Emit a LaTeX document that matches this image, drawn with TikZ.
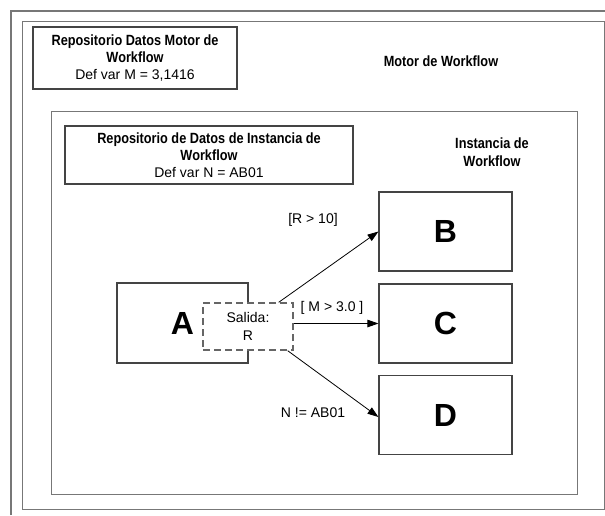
\documentclass[tikz,border=0pt]{standalone}
\usepackage{fontspec}
\setmainfont{Liberation Sans}
\newfontface\narrowbold[FakeStretch=0.86]{Liberation Sans Bold}
\usetikzlibrary{arrows.meta}

\definecolor{framegray}{HTML}{777777}
\definecolor{boxgray}{HTML}{444444}
\definecolor{dashgray}{HTML}{666666}

\tikzset{
  frame/.style={draw=framegray, line width=1.4pt},
  container/.style={draw=framegray, line width=1.4pt, inner sep=0pt, anchor=north west},
  repo/.style={draw=boxgray, line width=1.1pt, inner sep=0pt, align=center,
    font=\fontsize{14.8}{17}\selectfont},
  task/.style={draw=boxgray, line width=1.1pt, inner sep=0pt,
    minimum width=133pt, minimum height=79pt,
    font=\fontsize{32}{36}\selectfont\bfseries},
  outbox/.style={draw=dashgray, fill=white, line width=1.4pt, dash pattern=on 7pt off 4pt,
    inner sep=0pt, minimum width=90pt, minimum height=47pt, align=center,
    font=\fontsize{14}{18}\selectfont},
  title/.style={font=\fontsize{14.8}{18}\narrowbold, align=center},
  cond/.style={font=\fontsize{14}{17}\selectfont, inner sep=0pt},
  flow/.style={draw=black, line width=0.8pt, -{Triangle[length=11pt,width=7.5pt]}}
}

\begin{document}
\begin{tikzpicture}[x=1pt, y=-1pt]
  \useasboundingbox (0,0) rectangle (605,515);

  % outermost border
  \draw[frame] (11,515) -- (11,11) -- (605,11);

  % workflow engine and workflow instance containers
  \node[container, minimum width=582pt, minimum height=488pt] (engine) at (22,21) {};
  \node[container, minimum width=526pt, minimum height=383pt] (instance) at (51,111) {};

  % data repositories
  \node[repo, minimum width=204pt, minimum height=62pt] (repoM) at (135,58)
    {\narrowbold Repositorio Datos Motor de\\ \narrowbold Workflow\\ \fontsize{14}{17}\selectfont Def var M = 3,1416};
  \node[repo, minimum width=288pt, minimum height=58pt] (repoN) at (209,155)
    {\narrowbold Repositorio de Datos de Instancia de\\ \narrowbold Workflow\\ \fontsize{14}{17}\selectfont Def var N = AB01};

  \node[title] (engineTitle) at (441,61) {Motor de Workflow};
  \node[title] (instTitle) at (492,152) {Instancia de\\Workflow};

  % activities
  \node[task, minimum width=131pt, minimum height=80pt] (A) at (182.5,323) {A};
  \node[task] (B) at (445.5,231.5) {B};
  \node[task] (C) at (445.5,323.5) {C};
  \node[task] (D) at (445.5,415) {D};

  % output of A
  \node[outbox] (out) at (248,326.5) {Salida:\\R};

  % transitions
  \draw[flow] ([xshift=-15pt]out.north east) -- (B.west);
  \draw[flow] (out.east |- C.west) -- (C.west);
  \draw[flow] ([xshift=-6pt]out.south east) -- ([yshift=-2pt]D.west);

  \node[cond] (c1) at (313,220) {[R > 10]};
  \node[cond] (c2) at (332,308) {[ M > 3.0 ]};
  \node[cond] (c3) at (313,413) {N != AB01};
\end{tikzpicture}
\end{document}
